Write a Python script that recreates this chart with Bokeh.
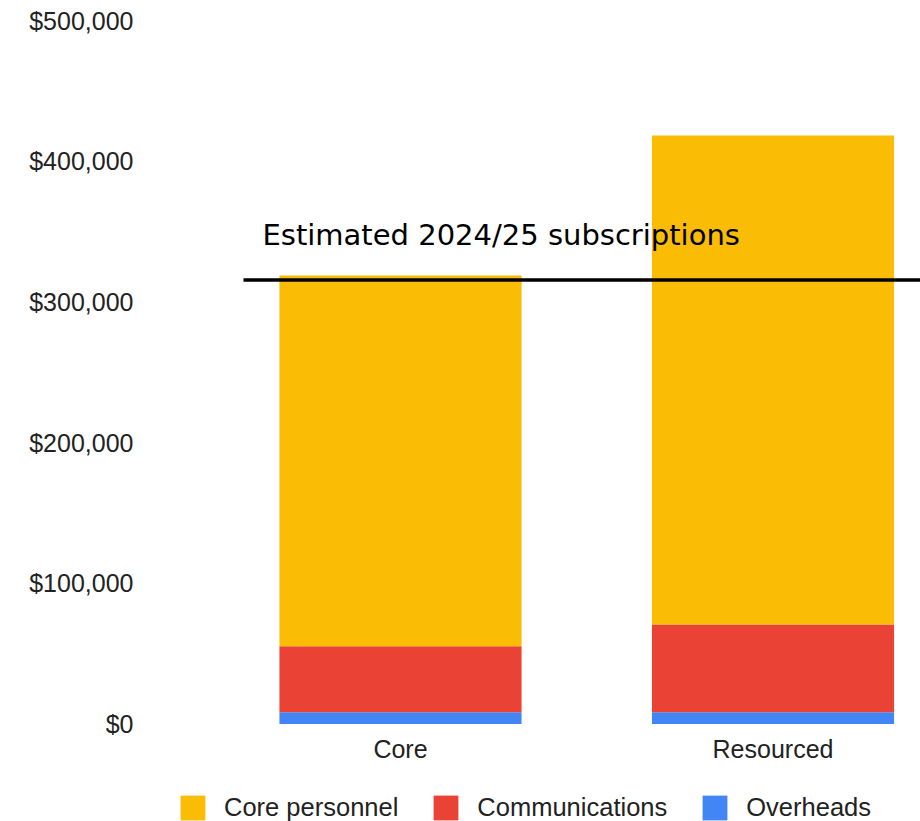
from bokeh.plotting import figure
from bokeh.core.properties import value
from bokeh.models import (Range1d, FixedTicker, NumeralTickFormatter, Label, LabelSet,
                          Legend, LegendItem, ColumnDataSource)
from bokeh.embed import file_html
from bokeh.resources import INLINE

# ---- data ----
categories = ["Core", "Resourced"]
overheads = [8400, 8400]
communications = [46900, 62300]
core_personnel = [263500, 347600]
subscriptions = 315500
subscriptions_label = "Estimated 2024/25 subscriptions"
series_names = ["Core personnel", "Communications", "Overheads"]
y_ticks = [0, 100000, 200000, 300000, 400000, 500000]

# ---- styling ----
YELLOW = "#FABC05"
RED = "#EA4335"
BLUE = "#4285F4"
TEXT = "#222222"
FONT = "Liberation Sans"

W, H = 920, 821
FRAME_L, FRAME_T = 150, 20
ZERO_PX = 723.5            # screen y of the $0 baseline
UNIT_PX = 372.5            # screen px per category slot
CORE_CENTER_PX = 400

xs = [i + 0.5 for i in range(len(categories))]
y_max = y_ticks[-1]
px_per_val = (ZERO_PX - FRAME_T) / y_max
y_min = -(H - ZERO_PX) / px_per_val
x_min = xs[0] - (CORE_CENTER_PX - FRAME_L) / UNIT_PX
x_max = x_min + (W - FRAME_L) / UNIT_PX
line_x0 = x_min + (243 - FRAME_L) / UNIT_PX

p = figure(width=W, height=H,
           x_range=Range1d(x_min, x_max), y_range=Range1d(y_min, y_max),
           output_backend="svg", toolbar_location=None,
           x_axis_location=None,
           min_border_left=FRAME_L, min_border_right=0,
           min_border_top=FRAME_T, min_border_bottom=0)

src = ColumnDataSource(dict(x=xs, label=categories, overheads=overheads,
                            communications=communications,
                            core_personnel=core_personnel))

rs = p.vbar_stack(["overheads", "communications", "core_personnel"], x="x",
                  width=0.65, source=src,
                  fill_color=[BLUE, RED, YELLOW], line_color=None)

# subscriptions line
p.segment(x0=[line_x0], y0=[subscriptions], x1=[x_max], y1=[subscriptions],
          line_color="black", line_width=3.5)

lbl = Label(x=0.1295, y=subscriptions, y_offset=45, text=subscriptions_label,
            text_font="DejaVu Sans", text_font_size="29px",
            text_baseline="alphabetic", text_color="black")
p.add_layout(lbl)

# category labels under the bars
cat_labels = LabelSet(x="x", y=0, text="label", source=src, y_offset=-25,
                      text_align="center", text_baseline="middle",
                      text_font=value(FONT), text_font_size=value("25px"),
                      text_color=TEXT)
p.add_layout(cat_labels)

# y axis
p.yaxis.ticker = FixedTicker(ticks=y_ticks)
p.yaxis.formatter = NumeralTickFormatter(format="$0,0")
p.yaxis.axis_line_color = None
p.yaxis.major_tick_line_color = None
p.yaxis.minor_tick_line_color = None
p.yaxis.major_tick_out = 0
p.yaxis.major_tick_in = 0
p.yaxis.major_label_text_font = FONT
p.yaxis.major_label_text_font_size = "25px"
p.yaxis.major_label_text_color = TEXT
p.yaxis.major_label_standoff = 17

p.grid.visible = False
p.outline_line_color = None

legend = Legend(items=[LegendItem(label=series_names[0], renderers=[rs[2]]),
                       LegendItem(label=series_names[1], renderers=[rs[1]]),
                       LegendItem(label=series_names[2], renderers=[rs[0]])],
                orientation="horizontal", location=(27, -2),
                glyph_width=31, glyph_height=31,
                label_text_font_size="25.5px", label_text_font=FONT,
                label_text_color=TEXT, label_standoff=16, spacing=32,
                padding=0, margin=0, border_line_color=None,
                background_fill_alpha=0)
p.add_layout(legend)

open("out.html", "w").write(file_html(p, INLINE))
